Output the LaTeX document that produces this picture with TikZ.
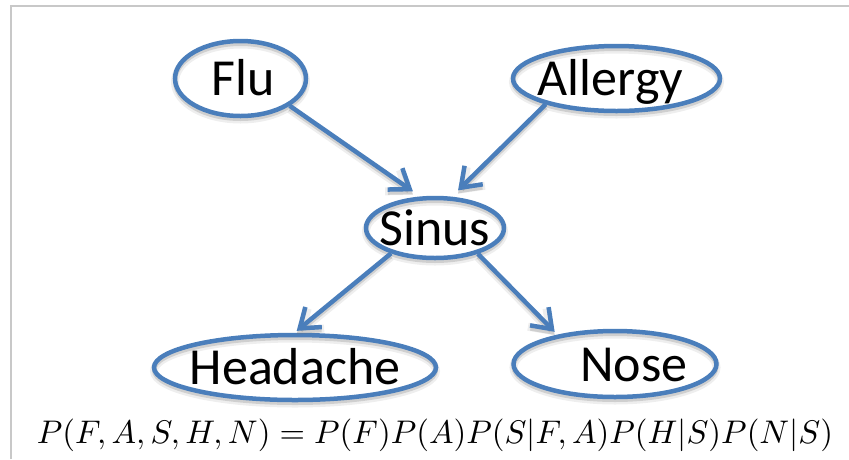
\documentclass[tikz,border=0pt]{standalone}
\usepackage{fontspec}
\usepackage{graphicx}
\setmainfont{Carlito}
\usetikzlibrary{shapes.geometric,arrows.meta}

\definecolor{netblue}{RGB}{74,126,187}
\definecolor{framegray}{RGB}{200,200,200}

\tikzset{
  softshadow/.style={
    preaction={draw=black!55, opacity=0.12, line width=8pt, transform canvas={yshift=-3.5pt}},
    preaction={draw=black!55, opacity=0.25, line width=4pt, transform canvas={yshift=-3pt}}
  },
  var/.style={ellipse, draw=netblue, line width=4.5pt, inner sep=0pt,
    text height=34pt, text depth=0pt, font=\fontsize{52}{60}\selectfont,
    softshadow},
  edge/.style={draw=netblue, line width=4.5pt,
    -{Straight Barb[length=18pt,width=26pt]}, softshadow}
}

\begin{document}
\begin{tikzpicture}[x=1pt,y=-1pt]
  \useasboundingbox (0,0) rectangle (849,459);

  % thin frame on the top and left edges
  \draw[framegray, line width=1.5pt] (11,459) -- (11,6) -- (849,6);

  % random variables
  \node[var, minimum width=131pt, minimum height=75pt] (flu)      at (240.5,78.5) {\makebox[0pt]{\hspace*{5pt}Flu}};
  \node[var, minimum width=207pt, minimum height=65pt] (allergy)  at (616.5,78.5) {\makebox[0pt]{\hspace*{-12pt}Allergy}};
  \node[var, minimum width=138pt, minimum height=60pt] (sinus)    at (435,228)    {\makebox[0pt]{Sinus}};
  \node[var, minimum width=282pt, minimum height=65pt] (headache) at (295,367.5)  {\makebox[0pt]{Headache}};
  \node[var, minimum width=203pt, minimum height=66pt] (nose)     at (615,364)    {\makebox[0pt]{\hspace*{38pt}Nose}};

  % dependencies
  \draw[edge, shorten >=9pt] (flu.-29) -- (sinus.115);
  \draw[edge, shorten >=9pt] (allergy.200) -- (sinus.62);
  \draw[edge, shorten >=3pt] (sinus.-150) -- (headache.91);
  \draw[edge, shorten >=4pt] (sinus.-31) -- (nose.153);

  % joint distribution
  \node[inner sep=0pt] (joint) at (435,435.5)
    {\resizebox{796pt}{!}{$P(F,A,S,H,N) = P(F)P(A)P(S|F,A)P(H|S)P(N|S)$}};
\end{tikzpicture}
\end{document}
